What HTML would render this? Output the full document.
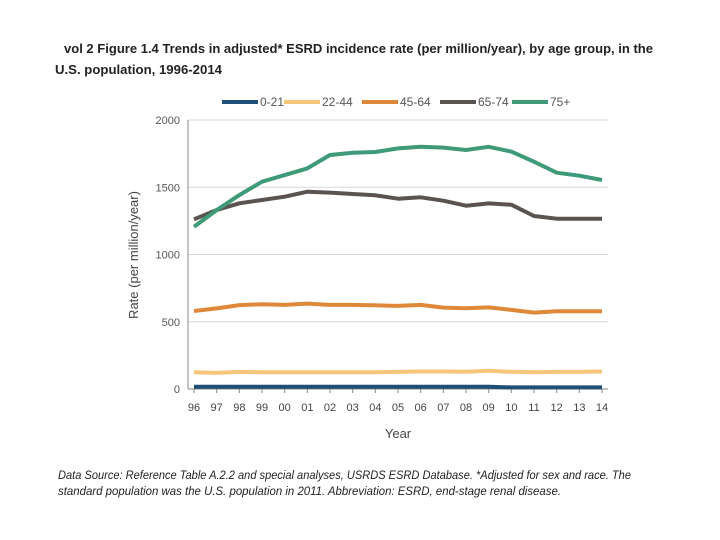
<!DOCTYPE html>
<html><head><meta charset="utf-8"><style>
body{margin:0;background:#fff;}
svg{display:block;font-family:"Liberation Sans",sans-serif;}
</style></head><body>
<svg id="chart" width="720" height="540" viewBox="0 0 720 540">
<text x="64" y="53" font-size="13" font-weight="bold" fill="#222" textLength="589" lengthAdjust="spacingAndGlyphs">vol 2 Figure 1.4  Trends in adjusted* ESRD incidence rate (per million/year), by age group, in the</text>
<text x="55" y="74" font-size="13" font-weight="bold" fill="#222" textLength="167" lengthAdjust="spacingAndGlyphs">U.S. population, 1996-2014</text>
<g id="legend"></g>
<g id="grid"></g>
<line x1="188" y1="120" x2="188" y2="389" stroke="#888" stroke-width="1"/>
<line x1="188" y1="389" x2="608" y2="389" stroke="#888" stroke-width="1"/>
<g id="series"></g>
<text x="0" y="0" transform="translate(138,255) rotate(-90)" text-anchor="middle" font-size="13" fill="#444">Rate (per million/year)</text>
<text x="398" y="438" text-anchor="middle" font-size="13" fill="#444">Year</text>
<text x="58" y="479" font-size="11.5" font-style="italic" fill="#222" textLength="573" lengthAdjust="spacingAndGlyphs">Data Source: Reference Table A.2.2 and special analyses, USRDS ESRD Database. *Adjusted for sex and race. The</text>
<text x="58" y="495" font-size="11.5" font-style="italic" fill="#222" textLength="503" lengthAdjust="spacingAndGlyphs">standard population was the U.S. population in 2011. Abbreviation: ESRD, end-stage renal disease.</text>
</svg>
<script>
const years = ["96","97","98","99","00","01","02","03","04","05","06","07","08","09","10","11","12","13","14"];
const yTicks = [0,500,1000,1500,2000];
const seriesNames = ["0-21","22-44","45-64","65-74","75+"];
const seriesColors = ["#1f4e79","#f6c77a","#e0883a","#5a5350","#3f9a78"];
const s0_21 = [16,16,16,16,16,16,16,16,16,16,16,16,16,16,12,12,12,12,12];
const s22_44 = [125,120,127,125,125,125,125,125,125,127,130,130,128,135,128,125,127,127,130];
const s45_64 = [580,599,624,630,625,635,625,625,622,618,625,605,600,607,588,568,578,578,578];
const s65_74 = [1262,1331,1381,1405,1430,1467,1460,1450,1440,1415,1425,1400,1363,1380,1370,1286,1266,1266,1266];
const s75 = [1207,1330,1442,1541,1590,1640,1740,1757,1762,1789,1801,1795,1777,1801,1765,1690,1608,1586,1554];
const allSeries = [s0_21,s22_44,s45_64,s65_74,s75];
const NS="http://www.w3.org/2000/svg";
const x0=194,x1=602,yb=389,yt=120,ymax=2000;
function xs(i){return x0+(x1-x0)*i/(years.length-1);}
function ys(v){return yb-(yb-yt)*v/ymax;}
function mk(tag,attrs,parent){const e=document.createElementNS(NS,tag);for(const k in attrs)e.setAttribute(k,attrs[k]);parent.appendChild(e);return e;}
const grid=document.getElementById('grid');
yTicks.forEach(t=>{
  if(t>0){const l=mk('line',{x1:188,x2:608,y1:ys(t),y2:ys(t),stroke:'#d8d8d8','stroke-width':1},grid);
  
  }
  const tx=mk('text',{x:180,y:ys(t)+4,'text-anchor':'end','font-size':11,fill:'#555'},grid);
  tx.textContent=t;
  
  
});
years.forEach((y,i)=>{
  const tk=mk('line',{x1:xs(i),x2:xs(i),y1:389,y2:393,stroke:'#888'},grid);
  
  
  const tx=mk('text',{x:xs(i),y:411,'text-anchor':'middle','font-size':11,fill:'#444'},grid);
  tx.textContent=y;
  
  
});
const sg=document.getElementById('series');
allSeries.forEach((d,si)=>{
  const pts=d.map((v,i)=>xs(i).toFixed(1)+','+ys(v).toFixed(1)).join(' ');
  const p=mk('polyline',{points:pts,fill:'none',stroke:seriesColors[si],'stroke-width':4,'stroke-linejoin':'round'},sg);
  
  
});
const lg=document.getElementById('legend');
const lx=[222,284,362,440,512];
seriesNames.forEach((n,i)=>{
  const r=mk('rect',{x:lx[i],y:100,width:36,height:4,fill:seriesColors[i]},lg);
  
  
  const t=mk('text',{x:lx[i]+38,y:106,'font-size':12,fill:'#555'},lg);
  t.textContent=n;
  
  
});
</script>
</body></html>
